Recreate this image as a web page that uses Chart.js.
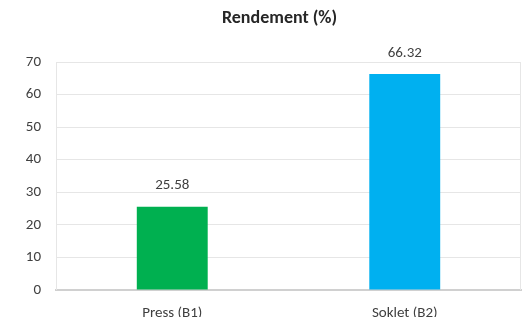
<!DOCTYPE html>
<html>
<head>
<meta charset="utf-8">
<script src="https://cdn.jsdelivr.net/npm/chart.js@4.4.1/dist/chart.umd.min.js"></script>
<style>
  html, body { margin: 0; padding: 0; background: #ffffff; }
  #wrap { width: 522px; height: 317px; position: relative; }
</style>
</head>
<body>
<div id="wrap"><canvas id="c" width="522" height="317"></canvas></div>
<script>
const categories = ["Press (B1)", "Soklet (B2)"];
const rendement = [25.58, 66.32];
const barColors = ["#00B050", "#00B0F0"];
const yTicks = [0, 10, 20, 30, 40, 50, 60, 70];
const chartTitle = "Rendement (%)";

const FONT = "Carlito, Lato, 'Liberation Sans', sans-serif";

const valueLabels = {
  id: 'valueLabels',
  afterDatasetsDraw(chart) {
    const ctx = chart.ctx;
    const meta = chart.getDatasetMeta(0);
    ctx.save();
    ctx.font = "15px " + FONT;
    ctx.fillStyle = "#404040";
    ctx.textAlign = "center";
    ctx.textBaseline = "middle";
    meta.data.forEach((bar, i) => {
      ctx.fillText(rendement[i].toFixed(2), bar.x, bar.y - 21);
    });
    ctx.restore();
  }
};

const titlePlugin = {
  id: 'shiftedTitle',
  afterDraw(chart) {
    const {ctx, chartArea: a} = chart;
    ctx.save();
    ctx.font = "bold 18px " + FONT;
    ctx.fillStyle = "#262626";
    ctx.textAlign = "center";
    ctx.textBaseline = "middle";
    ctx.fillText(chartTitle, (a.left + a.right) / 2 - 9, a.top - 44);
    ctx.restore();
  }
};

const areaBorder = {
  id: 'areaBorder',
  beforeDatasetsDraw(chart) {
    const {ctx, chartArea: a} = chart;
    ctx.save();
    ctx.strokeStyle = "#e6e6e6";
    ctx.lineWidth = 1;
    ctx.beginPath();
    ctx.moveTo(a.left + 0.5, a.top);
    ctx.lineTo(a.left + 0.5, a.bottom);
    ctx.moveTo(a.right - 0.5, a.top);
    ctx.lineTo(a.right - 0.5, a.bottom);
    ctx.stroke();
    ctx.restore();
  }
};

new Chart(document.getElementById('c'), {
  type: 'bar',
  data: {
    labels: categories,
    datasets: [{
      data: rendement,
      backgroundColor: barColors,
      borderWidth: 0,
      barPercentage: 0.305,
      categoryPercentage: 1
    }]
  },
  options: {
    responsive: false,
    animation: false,
    devicePixelRatio: 1,
    layout: { padding: { left: 0, right: 1, top: 62, bottom: 0 } },
    plugins: {
      legend: { display: false },
      tooltip: { enabled: false },
      title: { display: false }
    },
    scales: {
      x: {
        grid: { display: false, drawTicks: false },
        border: { display: true, color: "#d0d0d0", width: 2 },
        ticks: { color: "#404040", font: { family: FONT, size: 15 }, padding: 14, maxRotation: 0 },
        afterFit(s) { s.height = 27; }
      },
      y: {
        min: 0,
        max: 70,
        afterBuildTicks(s) { s.ticks = yTicks.map(v => ({ value: v })); },
        grid: { color: "#e6e6e6", lineWidth: 1, drawTicks: false },
        border: { display: false },
        ticks: { color: "#404040", font: { family: FONT, size: 15 }, padding: 15 },
        afterFit(s) { s.width = 56; }
      }
    }
  },
  plugins: [areaBorder, valueLabels, titlePlugin]
});
</script>
</body>
</html>
